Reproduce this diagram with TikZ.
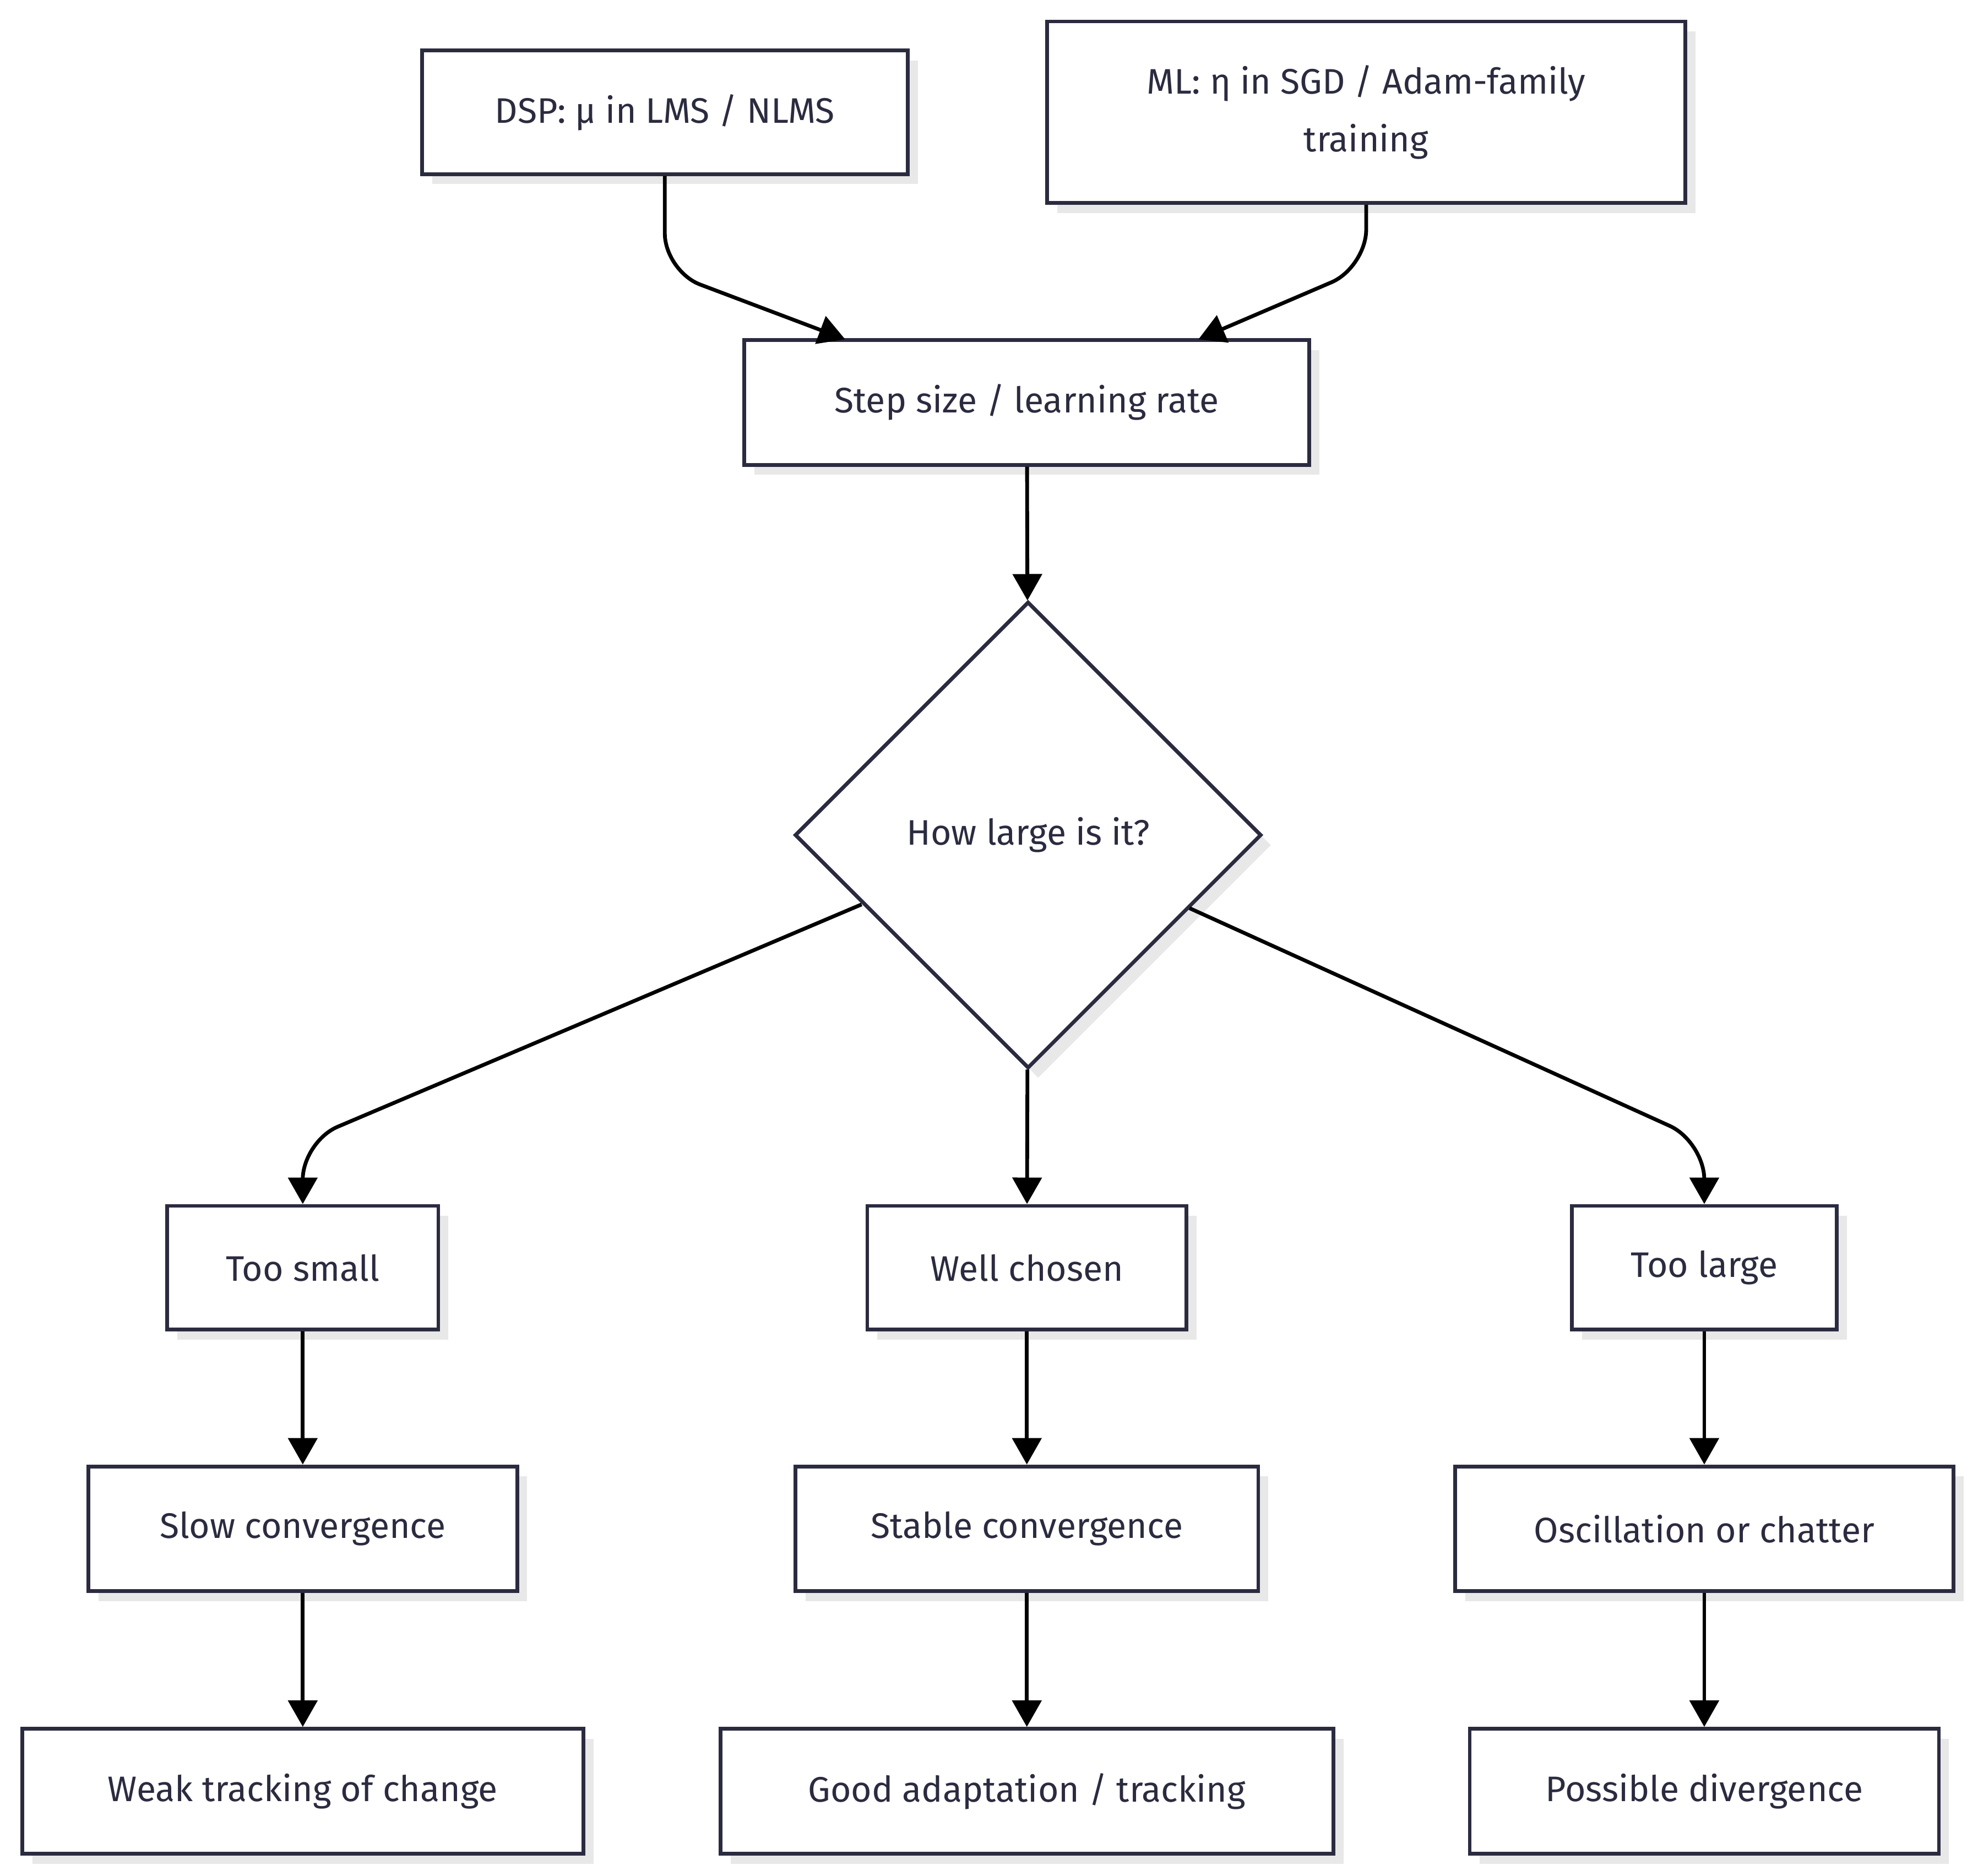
\documentclass[tikz,border=0pt]{standalone}
\usepackage{fontspec}
\setmainfont{Fira Sans}
\usetikzlibrary{shapes.geometric,arrows.meta,shadows}
\definecolor{ink}{HTML}{2B2B40}
\begin{document}
\begin{tikzpicture}[x=0.02cm,y=-0.02cm,
  box/.style={draw=ink,line width=1.7pt,fill=white,text=ink,align=center,inner sep=0pt,
    font=\fontsize{16}{26}\selectfont,
    drop shadow={shadow xshift=0.16cm,shadow yshift=-0.16cm,fill=black!9,opacity=1}},
  arr/.style={draw=black,line width=1.7pt,-{Triangle[length=0.42cm,width=0.46cm]},rounded corners=0.6cm}]
\useasboundingbox (0,0) rectangle (1568,1487);
\node[box,minimum width=7.7cm,minimum height=1.96cm] (dsp) at (527,89) {DSP: μ in LMS / NLMS};
\node[box,minimum width=10.12cm,minimum height=2.88cm] (ml) at (1083,89) {ML: η in SGD / Adam-family\\training};
\node[box,minimum width=8.96cm,minimum height=1.98cm] (step) at (814,319) {Step size / learning rate};
\node[diamond,box,minimum width=7.4cm,minimum height=7.4cm] (q) at (815,662) {How large is it?};
\node[box,minimum width=4.3cm,minimum height=1.96cm] (ts) at (240,1005) {Too small};
\node[box,minimum width=5.06cm,minimum height=1.96cm] (wc) at (814,1005) {Well chosen};
\node[box,minimum width=4.2cm,minimum height=1.96cm] (tl) at (1351,1005) {Too large};
\node[box,minimum width=6.8cm,minimum height=1.98cm] (sc) at (240,1212) {Slow convergence};
\node[box,minimum width=7.34cm,minimum height=1.98cm] (stc) at (814,1212) {Stable convergence};
\node[box,minimum width=7.9cm,minimum height=1.98cm] (osc) at (1351,1212) {Oscillation or chatter};
\node[box,minimum width=8.9cm,minimum height=1.98cm] (wt) at (240,1420) {Weak tracking of change};
\node[box,minimum width=9.72cm,minimum height=1.98cm] (ga) at (814,1420) {Good adaptation / tracking};
\node[box,minimum width=7.44cm,minimum height=1.98cm] (pd) at (1351,1420) {Possible divergence};
\draw[arr] (dsp.south) -- (527,215) -- (670,269);
\draw[arr] (ml.south) -- (1083,212) -- (950,269);
\draw[arr] (step) -- (q);
\draw[arr] (683,717) -- (240,905) -- (ts.north);
\draw[arr] (q) -- (wc);
\draw[arr] (943,720) -- (1351,905) -- (tl.north);
\draw[arr] (ts) -- (sc);
\draw[arr] (wc) -- (stc);
\draw[arr] (tl) -- (osc);
\draw[arr] (sc) -- (wt);
\draw[arr] (stc) -- (ga);
\draw[arr] (osc) -- (pd);
\end{tikzpicture}
\end{document}
